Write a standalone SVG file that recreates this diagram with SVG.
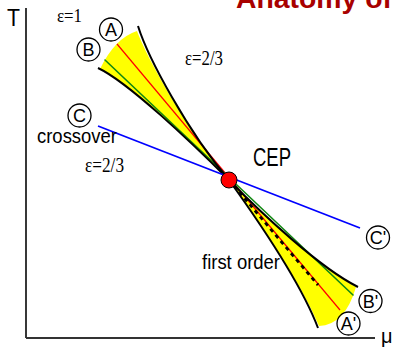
<svg xmlns="http://www.w3.org/2000/svg" width="395" height="348" viewBox="0 0 395 348">
<style>
.sans{font-family:"Liberation Sans",Arial,sans-serif;fill:#000}
.serif{font-family:"Liberation Serif","Times New Roman",serif;fill:#000}
.ring{fill:none;stroke:#000;stroke-width:1.3}
.lbl{font-family:"Liberation Sans",Arial,sans-serif;font-size:18px;text-anchor:middle;fill:#000}
.bk{fill:none;stroke:#000;stroke-width:2}
</style>
<rect width="395" height="348" fill="#fff"/>
<text x="236" y="8" font-family="Liberation Sans,Arial,sans-serif" font-weight="bold" font-size="28" fill="#a80000" textLength="156" lengthAdjust="spacingAndGlyphs">Anatomy of</text>
<g id="axes">
<line x1="26" y1="8" x2="26" y2="338" stroke="#222" stroke-width="1.8"/>
<line x1="26" y1="338" x2="375" y2="338" stroke="#333" stroke-width="1.8"/>
<text class="sans" x="7" y="26" font-size="23" textLength="13" lengthAdjust="spacingAndGlyphs">T</text>
<text class="sans" x="381" y="343" font-size="20">μ</text>
</g>
<g id="regions">
<path d="M100,69 Q115,38 137,31 C147,58 188,132 229,180 C192,143 128,82 100,69 Z" fill="#ffff00"/>
<path d="M229,180 C252,212 300,280 319,326 Q345,325 356,287 C320,268 262,214 229,180 Z" fill="#ffff00"/>
</g>
<g id="connectors">
<line x1="117" y1="44" x2="340" y2="310" stroke="#ff0000" stroke-width="1.2"/>
<line x1="105" y1="60" x2="353" y2="295" stroke="#118811" stroke-width="1.6" stroke-linecap="round"/>
<line x1="229" y1="180" x2="318" y2="285" stroke="#000" stroke-width="2.8" stroke-dasharray="4,4"/>
<path class="bk" d="M138,26 C148,58 188,132 229,180"/>
<path class="bk" d="M229,180 C252,212 300,280 318,328"/>
<path class="bk" d="M98,68 C128,82 192,143 229,180"/>
<path class="bk" d="M229,180 C262,214 320,268 358,287"/>
<line x1="98" y1="126" x2="360" y2="228" stroke="#0000ff" stroke-width="1.8"/>
</g>
<g id="CEP">
<circle cx="229" cy="180" r="8" fill="#ff0000" stroke="#000" stroke-width="1"/>
<text class="sans" x="253" y="166" font-size="25" textLength="38" lengthAdjust="spacingAndGlyphs">CEP</text>
</g>
<g id="A"><circle class="ring" cx="111" cy="29.5" r="11.5"/><text class="lbl" x="111" y="36">A</text></g>
<g id="B"><circle class="ring" cx="88.5" cy="49.5" r="11.5"/><text class="lbl" x="88.5" y="56">B</text></g>
<g id="C"><circle class="ring" cx="79.5" cy="115.5" r="11.5"/><text class="lbl" x="79.5" y="122">C</text></g>
<g id="Cp"><circle class="ring" cx="378" cy="237.5" r="11.5"/><text class="lbl" x="378" y="244">C'</text></g>
<g id="Bp"><circle class="ring" cx="370.5" cy="301" r="11.5"/><text class="lbl" x="370.5" y="307.5">B'</text></g>
<g id="Ap"><circle class="ring" cx="348.5" cy="323.5" r="11.5"/><text class="lbl" x="348.5" y="330">A'</text></g>
<g id="labels">
<text class="serif" x="57" y="22" font-size="18" textLength="25" lengthAdjust="spacingAndGlyphs">ε=1</text>
<text class="serif" x="185" y="65" font-size="21" textLength="38" lengthAdjust="spacingAndGlyphs">ε=2/3</text>
<text class="serif" x="85" y="172" font-size="20" textLength="39" lengthAdjust="spacingAndGlyphs">ε=2/3</text>
<text class="sans" x="37" y="143" font-size="20" textLength="80" lengthAdjust="spacingAndGlyphs">crossover</text>
<text class="sans" x="202" y="269" font-size="20" textLength="78" lengthAdjust="spacingAndGlyphs">first order</text>
</g>
</svg>
